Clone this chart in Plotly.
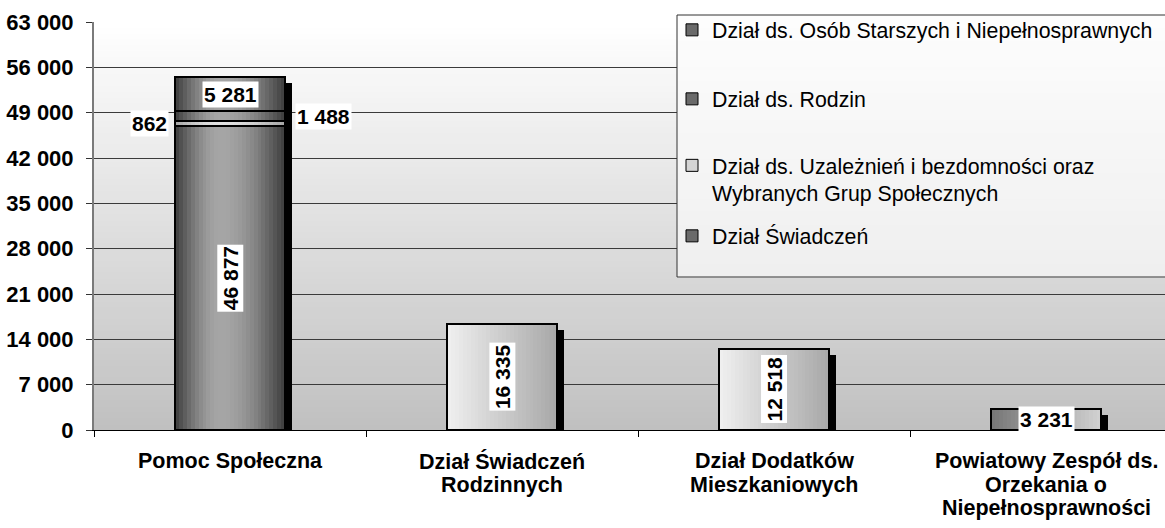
import math
import plotly.graph_objects as go

# ---------------- data ----------------
categories = [
    "Pomoc Społeczna",
    "Dział Świadczeń\nRodzinnych",
    "Dział Dodatków\nMieszkaniowych",
    "Powiatowy Zespół ds.\nOrzekania o\nNiepełnosprawności",
]
series_names = [
    "Dział Świadczeń",
    "Dział ds. Uzależnień i bezdomności oraz<br>Wybranych Grup Społecznych",
    "Dział ds. Rodzin",
    "Dział ds. Osób Starszych i Niepełnosprawnych",
]
dzial_swiadczen = [46877, 16335, 12518, 3231]
dzial_uzaleznien = [862, 0, 0, 0]
dzial_rodzin = [1488, 0, 0, 0]
dzial_osob_starszych = [5281, 0, 0, 0]
y_tick_values = [0, 7000, 14000, 21000, 28000, 35000, 42000, 49000, 56000, 63000]

series_values = [dzial_swiadczen, dzial_uzaleznien, dzial_rodzin, dzial_osob_starszych]

# ---------------- style ----------------
FONT = "Liberation Sans, Arial, Helvetica, sans-serif"
W, H = 1165, 528
ML, MR, MT, MB = 94, 0, 22, 98
PLOT_W, PLOT_H = W - ML - MR, H - MT - MB
X_RANGE = [-0.5, 3.4375]
Y_RANGE = [0, 63000]
UX = (X_RANGE[1] - X_RANGE[0]) / PLOT_W
UY = (Y_RANGE[1] - Y_RANGE[0]) / PLOT_H
BAR_W = 110 * UX
SHADOW_DX = 7 * UX
SHADOW_DROP = 6 * UY
N_STRIPS = 28

# gradient style of each point of each series
point_styles = [
    ["cyl", "light", "light", "mid"],
    ["band"] * 4,
    ["cyl"] * 4,
    ["cyl"] * 4,
]
legend_colors = ["#6a6a6a", "#d4d4d4", "#6a6a6a", "#6a6a6a"]
legend_ids = ["legend4", "legend3", "legend2", "legend"]
label_place = ["center", "left", "right", "center"]
label_angle = [[-90, -90, -90, 0], [0] * 4, [0] * 4, [0] * 4]


def shade(style, t):
    if style == "cyl":
        u = t / 0.42 if t <= 0.42 else (1 - t) / 0.58
        lv = 60 + 105 * math.sin(max(0.0, u) * math.pi / 2)
    elif style == "band":
        u = t / 0.42 if t <= 0.42 else (1 - t) / 0.58
        lv = 165 + 60 * math.sin(max(0.0, u) * math.pi / 2)
    elif style == "light":
        lv = 240 - 72 * t
    else:  # mid
        lv = 118 + 92 * t
    lv = int(round(lv))
    return f"rgb({lv},{lv},{lv})"


def fmt(v):
    return f"{v:,}".replace(",", " ")


x = list(range(len(categories)))
bases = []
acc = [0] * len(x)
for vals in series_values:
    bases.append(acc[:])
    acc = [a + v for a, v in zip(acc, vals)]
totals = acc

fig = go.Figure()

# shadow behind each stacked bar
fig.add_trace(go.Bar(
    x=x, y=[t - SHADOW_DROP for t in totals], base=[0] * len(x),
    width=BAR_W, offset=-BAR_W / 2 + SHADOW_DX,
    marker=dict(color="black", line=dict(width=0)),
    showlegend=False, hoverinfo="skip",
))

# solid fills (also legend entries)
for s, vals in enumerate(series_values):
    fig.add_trace(go.Bar(
        x=x, y=vals, base=bases[s], name=series_names[s],
        width=BAR_W, offset=-BAR_W / 2,
        marker=dict(color=legend_colors[s], line=dict(color="black", width=1)),
        legend=legend_ids[s], hoverinfo="skip",
    ))

# gradient strips
for s, vals in enumerate(series_values):
    for k in range(N_STRIPS):
        t = (k + 0.5) / N_STRIPS
        fig.add_trace(go.Bar(
            x=x, y=vals, base=bases[s],
            width=BAR_W / N_STRIPS * 1.35,
            offset=-BAR_W / 2 + k * BAR_W / N_STRIPS,
            marker=dict(color=[shade(st, t) for st in point_styles[s]], line=dict(width=0)),
            showlegend=False, hoverinfo="skip",
        ))

# outlines
for s, vals in enumerate(series_values):
    fig.add_trace(go.Bar(
        x=x, y=vals, base=bases[s],
        width=BAR_W, offset=-BAR_W / 2,
        marker=dict(color="rgba(0,0,0,0)", line=dict(color="black", width=2)),
        showlegend=False, hoverinfo="skip",
    ))

annotations = []
# data labels
for s, vals in enumerate(series_values):
    for p, v in enumerate(vals):
        if v <= 0:
            continue
        yc = bases[s][p] + v / 2
        place = label_place[s]
        a = dict(x=p, y=yc, xref="x", yref="y", text=f"<b>{fmt(v)}</b>", showarrow=False,
                 bgcolor="white", borderpad=1, textangle=label_angle[s][p],
                 font=dict(family=FONT, size=21, color="black"))
        if place == "left":
            a.update(x=p - BAR_W / 2, xanchor="right", xshift=-6)
        elif place == "right":
            a.update(x=p + BAR_W / 2, xanchor="left", xshift=10)
        annotations.append(a)

# category labels (line by line)
for p, cat in enumerate(categories):
    for i, line in enumerate(cat.split("\n")):
        annotations.append(dict(
            x=p, y=0, xref="x", yref="paper", yanchor="middle",
            yshift=-(31 + 23.5 * i), text=f"<b>{line}</b>", showarrow=False,
            font=dict(family=FONT, size=21.5, color="black"),
        ))

shapes = []
# plot background gradient
NB = 70
for i in range(NB):
    t = (i + 0.5) / NB
    lv = int(round(255 - 63 * t))
    shapes.append(dict(
        type="rect", xref="x domain", yref="y domain",
        x0=0, x1=1, y0=1 - (i + 1) / NB - 0.002, y1=1 - i / NB,
        fillcolor=f"rgb({lv},{lv},{lv})", line=dict(width=0), layer="below",
    ))
# legend frame (soft vertical gradient)
LX0 = (677 - ML) / PLOT_W
LY_TOP = (MT + PLOT_H - 15) / PLOT_H
LY_BOT = (MT + PLOT_H - 277) / PLOT_H
NLB = 20
for i in range(NLB):
    lv = int(round(253 - 14 * (i + 0.5) / NLB))
    shapes.append(dict(
        type="rect", xref="paper", yref="paper",
        x0=LX0, x1=1.02,
        y1=LY_TOP - (LY_TOP - LY_BOT) * i / NLB,
        y0=LY_TOP - (LY_TOP - LY_BOT) * (i + 1) / NLB - 0.002,
        fillcolor=f"rgb({lv},{lv},{lv})", line=dict(width=0), layer="above",
    ))
shapes.append(dict(
    type="rect", xref="paper", yref="paper",
    x0=LX0, x1=1.02, y0=LY_BOT, y1=LY_TOP,
    fillcolor="rgba(0,0,0,0)", line=dict(color="#333333", width=1), layer="above",
))

legend_common = dict(
    xanchor="left", yanchor="middle", bgcolor="rgba(0,0,0,0)", borderwidth=0,
    font=dict(family=FONT, size=21.3, color="black"), itemclick=False, itemdoubleclick=False,
)
legend_y_px = {"legend": 30, "legend2": 99, "legend3": 179.5, "legend4": 236}
legend_layout = {}
for lid, ypx in legend_y_px.items():
    d = dict(legend_common)
    d.update(x=(672 - ML) / PLOT_W, y=(MT + PLOT_H - ypx) / PLOT_H)
    if lid == "legend3":
        d.update(valign="top")
    legend_layout[lid] = d

fig.update_layout(
    width=W, height=H,
    margin=dict(l=ML, r=MR, t=MT, b=MB, autoexpand=False),
    paper_bgcolor="white", plot_bgcolor="white",
    barmode="overlay", bargap=0,
    separators=", ",
    font=dict(family=FONT, size=21, color="black"),
    xaxis=dict(
        range=X_RANGE, showgrid=False, zeroline=False,
        showline=True, linecolor="black", linewidth=1,
        tickmode="array", tickvals=[-0.5, 0.5, 1.5, 2.5, 3.5],
        ticks="outside", ticklen=6, tickcolor="black", showticklabels=False,
    ),
    yaxis=dict(
        range=Y_RANGE, tickmode="array", tickvals=y_tick_values,
        tickformat=",d", showgrid=True, gridcolor="#3a3a3a", gridwidth=1,
        zeroline=False, showline=True, linecolor="#7a7a7a", linewidth=2,
        ticks="outside", ticklen=6, tickcolor="#333333", ticklabelstandoff=8,
        tickfont=dict(family=FONT, size=22, color="black", weight="bold"),
    ),
    annotations=annotations, shapes=shapes,
    **legend_layout,
)

fig.write_html(
    "out.html",
    config={"displayModeBar": False},
    post_script="document.body.style.margin='0';document.body.style.overflow='hidden';",
)
